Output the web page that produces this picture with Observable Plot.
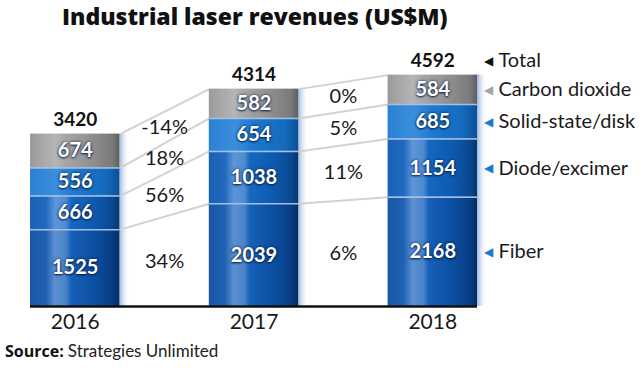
<!DOCTYPE html>
<html><head><meta charset="utf-8">
<script src="https://cdn.jsdelivr.net/npm/d3@7"></script>
<script src="https://cdn.jsdelivr.net/npm/@observablehq/plot@0.6"></script>
<style>
body{margin:0;background:#fff;font-family:Lato,sans-serif;}
#title{font-family:"Open Sans",sans-serif;font-weight:800;font-size:23px;height:38px;line-height:32px;padding-left:62px;color:#111;white-space:nowrap;}
#chart svg{display:block;}
#caption{height:28px;line-height:22px;padding-left:5px;color:#222;}
#caption b{font-family:"Open Sans",sans-serif;font-size:16px;color:#111;}
#caption span{font-family:Lato,sans-serif;font-size:17px;}
.seglabel text{text-shadow:0 0 3px rgba(0,25,70,0.9),0 1px 2px rgba(0,25,70,0.8);}
</style></head><body>
<div id="title">Industrial laser revenues (US$M)</div>
<div id="chart"></div>
<div id="caption"><b>Source:</b> <span>Strategies Unlimited</span></div>
<script>
const years = [2016, 2017, 2018];
const seriesNames = ["Fiber", "Diode/excimer", "Solid-state/disk", "Carbon dioxide"];
const fiber = [1525, 2039, 2168];
const diode = [666, 1038, 1154];
const solid = [556, 654, 685];
const co2 = [674, 582, 584];
const totals = [3420, 4314, 4592];
const growth1617 = ["34%", "56%", "18%", "-14%"];
const growth1718 = ["6%", "11%", "5%", "0%"];
const totalLabel = "Total";

const growth = [growth1617, growth1718];
const valuesBySeries = [fiber, diode, solid, co2];
const gradIds = ["g-fiber", "g-diode", "g-solid", "g-co2"];
const BAR = 0.5;

const segs = [];
years.forEach((year, i) => {
  let acc = 0;
  valuesBySeries.forEach((vals, s) => {
    segs.push({year, i, s, series: seriesNames[s], value: vals[i], y1: acc, y2: acc + vals[i], mid: acc + vals[i] / 2});
    acc += vals[i];
  });
});
const links = segs.filter(d => d.i < years.length - 1).map(d => {
  const n = segs.find(e => e.i === d.i + 1 && e.s === d.s);
  return {x1: d.year + BAR / 2, x2: n.year - BAR / 2, y1: d.y2, y2: n.y2,
          label: growth[d.i][d.s], xm: (d.year + n.year) / 2, ym: (d.mid + n.mid) / 2};
});
const totalsData = years.map((year, i) => ({year, total: totals[i]}));
const last = segs.filter(d => d.i === years.length - 1);
const lastYear = years[years.length - 1];

const plot = Plot.plot({
  width: 640, height: 302,
  marginLeft: 30, marginRight: 163, marginTop: 16, marginBottom: 34,
  style: {fontFamily: "Lato, sans-serif", background: "white", overflow: "visible"},
  x: {type: "linear", domain: [years[0] - BAR / 2, lastYear + BAR / 2], axis: null},
  y: {domain: [0, 5000], axis: null},
  color: {type: "identity"},
  marks: [
    Plot.rectY(totalsData, {x1: d => d.year + BAR / 2, x2: d => d.year + BAR / 2, y1: 0, y2: "total", insetRight: -10, fill: "url(#g-shadow)"}),
    Plot.link(links, {x1: "x1", y1: "y1", x2: "x2", y2: "y2", stroke: "#d2d2d2", strokeWidth: 2}),
    ...gradIds.map((g, s) => Plot.rectY(segs.filter(d => d.s === s), {
      x1: d => d.year - BAR / 2, x2: d => d.year + BAR / 2, y1: "y1", y2: "y2", fill: `url(#${g})`
    })),
    Plot.ruleY(segs.filter(d => d.s < seriesNames.length - 1), {y: "y2", x1: d => d.year - BAR / 2, x2: d => d.year + BAR / 2, stroke: "#a3c0e6", strokeWidth: 1.5}),
    Plot.text(segs, {x: "year", y: "mid", text: d => String(d.value), fill: "white", fontWeight: "bold", fontSize: 20, className: "seglabel"}),
    Plot.text(totalsData, {x: "year", y: "total", text: d => String(d.total), dy: -14, fill: "#111", fontWeight: "bold", fontSize: 19}),
    Plot.text(links, {x: "xm", y: "ym", text: "label", fill: "#1a1a1a", fontSize: 20}),
    Plot.ruleY([0], {stroke: "#111", strokeWidth: 2.5}),
    Plot.text(last, {x: () => lastYear + BAR / 2, y: "mid", text: () => "◀", dx: 11, fontSize: 12, fontFamily: "DejaVu Sans",
      fill: d => d.s === seriesNames.length - 1 ? "#a6a6a6" : "#1f77d0"}),
    Plot.text(last, {x: () => lastYear + BAR / 2, y: "mid", text: "series", dx: 21, textAnchor: "start", fontSize: 20, fill: "#1a1a1a"}),
    Plot.text([totals[totals.length - 1]], {x: () => lastYear + BAR / 2, y: d => d, text: () => "◀", dx: 11, dy: -14, fontSize: 12, fontFamily: "DejaVu Sans", fill: "#111"}),
    Plot.text([totals[totals.length - 1]], {x: () => lastYear + BAR / 2, y: d => d, text: () => totalLabel, dx: 21, dy: -14, textAnchor: "start", fontSize: 20, fill: "#1a1a1a"}),
    Plot.axisX(years, {tickFormat: d => String(d), tickSize: 0, tickPadding: 8, fontSize: 21, fill: "#1a1a1a"})
  ]
});

const defs = d3.select(plot).insert("defs", ":first-child");
function grad(id, stops) {
  const g = defs.append("linearGradient").attr("id", id).attr("x1", 0).attr("x2", 1).attr("y1", 0).attr("y2", 0);
  stops.forEach(([o, c, op]) => g.append("stop").attr("offset", o).attr("stop-color", c).attr("stop-opacity", op == null ? 1 : op));
}
grad("g-fiber", [[0, "#1857a5"], [0.18, "#1f62b3"], [0.28, "#5d90d2"], [0.40, "#4a83c9"], [0.46, "#1560b8"], [0.75, "#0b4d9e"], [0.92, "#083d82"], [1, "#052c63"]]);
grad("g-diode", [[0, "#1a62b5"], [0.18, "#2069be"], [0.28, "#5d95d8"], [0.40, "#4f8bd2"], [0.46, "#1468c2"], [0.75, "#0d58ad"], [0.92, "#0a4890"], [1, "#063570"]]);
grad("g-solid", [[0, "#2a82d4"], [0.3, "#3b8edb"], [0.5, "#1d78cf"], [0.85, "#146abd"], [1, "#0c4f95"]]);
grad("g-co2", [[0, "#9a9a9a"], [0.28, "#b5b5b5"], [0.4, "#a6a6a6"], [0.7, "#8e8e8e"], [0.92, "#7a7a7a"], [1, "#5e5e5e"]]);
grad("g-shadow", [[0, "#7fa3d6", 0.8], [1, "#ffffff", 0]]);

document.getElementById("chart").appendChild(plot);
</script>
</body></html>
